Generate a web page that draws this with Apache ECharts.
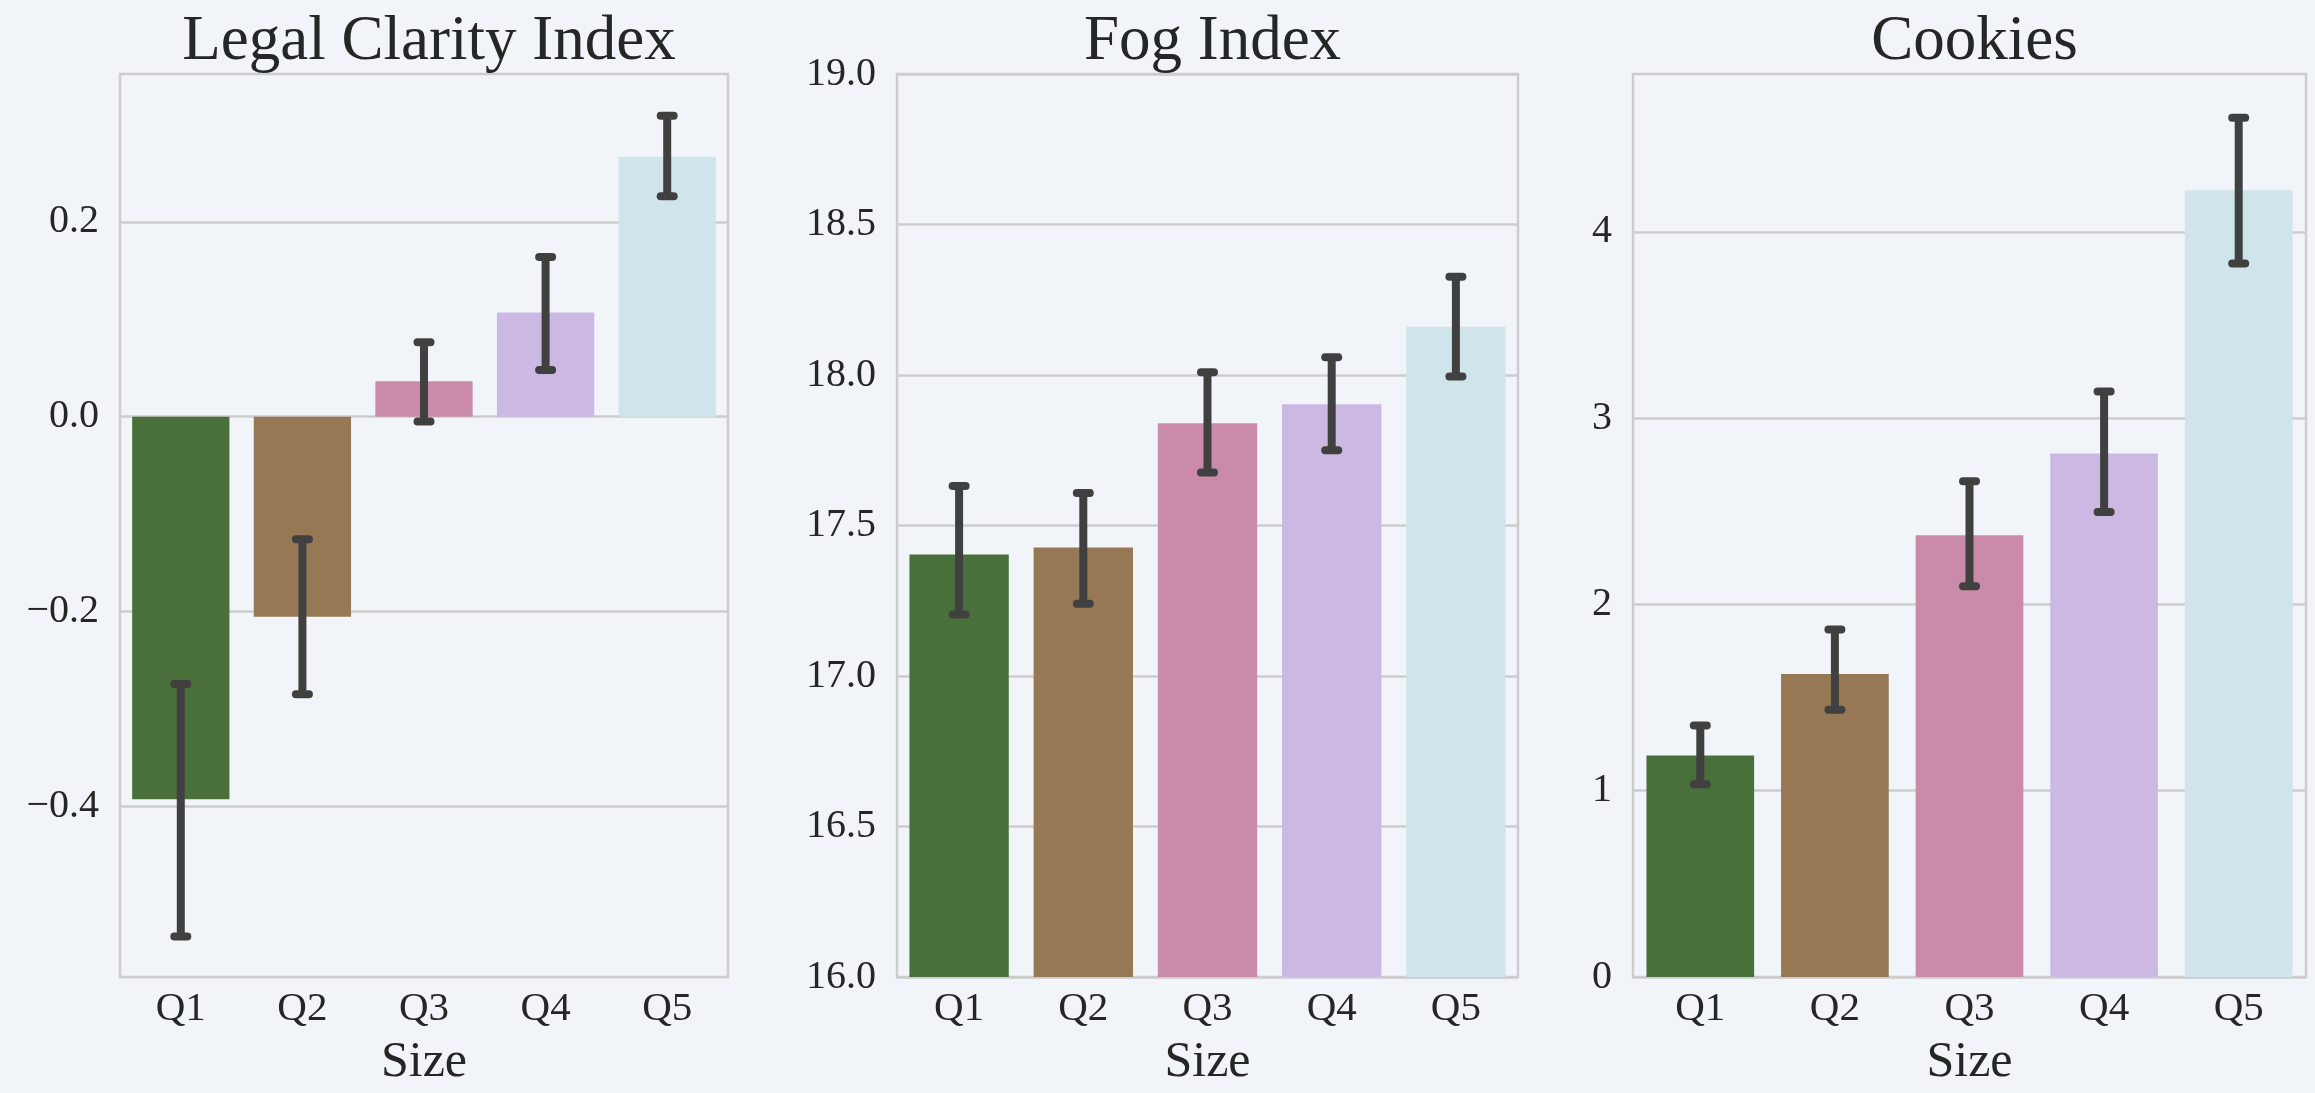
<!DOCTYPE html>
<html>
<head>
<meta charset="utf-8">
<script src="https://cdn.jsdelivr.net/npm/echarts@6/dist/echarts.min.js"></script>
<style>
html,body{margin:0;padding:0;background:#f1f5f9;overflow:hidden;}
#chart{width:2315px;height:1093px;}
</style>
</head>
<body>
<div id="chart"></div>
<script>
// ---- data ----
const categories = ['Q1', 'Q2', 'Q3', 'Q4', 'Q5'];
const panelTitles = ['Legal Clarity Index', 'Fog Index', 'Cookies'];
const xAxisName = 'Size';

const legalMean = [-0.393, -0.2055, 0.0365, 0.107, 0.267];
const legalLow  = [-0.534, -0.285, -0.005, 0.048, 0.2265];
const legalHigh = [-0.2745, -0.126, 0.0765, 0.164, 0.309];

const fogMean = [17.404, 17.427, 17.84, 17.903, 18.16];
const fogLow  = [17.204, 17.24, 17.676, 17.75, 17.995];
const fogHigh = [17.631, 17.608, 18.009, 18.059, 18.326];

const cookiesMean = [1.189, 1.627, 2.372, 2.81, 4.224];
const cookiesLow  = [1.035, 1.435, 2.098, 2.496, 3.83];
const cookiesHigh = [1.35, 1.866, 2.662, 3.143, 4.613];

const legalTicks = [-0.4, -0.2, 0, 0.2];
const fogTicks = [16, 16.5, 17, 17.5, 18, 18.5, 19];
const cookiesTicks = [0, 1, 2, 3, 4];

const legalRange = [-0.5755, 0.352];
const fogRange = [16, 19];
const cookiesRange = [0, 4.848];

// ---- styles ----
const barColors = ['#49703a', '#967855', '#c98ba9', '#cbb9e4', '#d0e4eb'];
const FONT = 'Liberation Serif';
const TEXT = '#262626';
const GRID = '#cdcdcd';
const ERR = '#404040';

const grids = [
  {left: 120, width: 608, top: 74, height: 908},
  {left: 897, width: 621, top: 74, height: 908},
  {left: 1633, width: 673, top: 74, height: 908}
];

const panels = [
  {mean: legalMean, low: legalLow, high: legalHigh, ticks: legalTicks, range: legalRange,
   fmt: v => (v < 0 ? '\u2212' : '') + Math.abs(v).toFixed(1)},
  {mean: fogMean, low: fogLow, high: fogHigh, ticks: fogTicks, range: fogRange,
   fmt: v => v.toFixed(1)},
  {mean: cookiesMean, low: cookiesLow, high: cookiesHigh, ticks: cookiesTicks, range: cookiesRange,
   fmt: v => String(Math.round(v))}
];

function renderErr(params, api) {
  const x = api.value(0);
  const lo = api.coord([x, api.value(1)]);
  const hi = api.coord([x, api.value(2)]);
  const cx = hi[0];
  const hw = 6.5;
  return {
    type: 'group',
    children: [
      {type: 'line', shape: {x1: cx, y1: hi[1], x2: cx, y2: lo[1]},
       style: {stroke: ERR, lineWidth: 8}},
      {type: 'line', shape: {x1: cx - hw, y1: hi[1], x2: cx + hw, y2: hi[1]},
       style: {stroke: ERR, lineWidth: 8, lineCap: 'round'}},
      {type: 'line', shape: {x1: cx - hw, y1: lo[1], x2: cx + hw, y2: lo[1]},
       style: {stroke: ERR, lineWidth: 8, lineCap: 'round'}}
    ]
  };
}

const option = {
  backgroundColor: '#f1f5f9',
  animation: false,
  title: panelTitles.map((t, i) => ({
    text: t,
    left: grids[i].left + grids[i].width / 2,
    top: 6,
    textAlign: 'center',
    textStyle: {fontFamily: FONT, fontSize: 63, fontWeight: 'normal', color: TEXT}
  })),
  grid: grids.map(g => Object.assign({show: true, borderColor: GRID, borderWidth: 2.5,
                                      backgroundColor: 'transparent', containLabel: false}, g)),
  xAxis: grids.map((g, i) => ({
    type: 'category',
    gridIndex: i,
    data: categories,
    axisLine: {show: false},
    axisTick: {show: false},
    axisLabel: {fontFamily: FONT, fontSize: 41, color: TEXT, margin: 12},
    name: xAxisName,
    nameLocation: 'middle',
    nameGap: 61,
    nameTextStyle: {fontFamily: FONT, fontSize: 50, color: TEXT}
  })),
  yAxis: panels.map((p, i) => ({
    type: 'value',
    gridIndex: i,
    min: p.range[0],
    max: p.range[1],
    axisLine: {show: false},
    axisTick: {show: false, customValues: p.ticks},
    axisLabel: {fontFamily: FONT, fontSize: 40, color: TEXT, margin: 21,
                customValues: p.ticks, formatter: p.fmt},
    splitLine: {show: true, lineStyle: {color: GRID, width: 2.5}}
  })),
  series: []
};

panels.forEach((p, i) => {
  option.series.push({
    type: 'bar',
    xAxisIndex: i, yAxisIndex: i,
    barWidth: '80%',
    data: p.mean.map((v, k) => ({value: v, itemStyle: {color: barColors[k]}})),
    z: 2
  });
  option.series.push({
    type: 'custom',
    xAxisIndex: i, yAxisIndex: i,
    renderItem: renderErr,
    clip: false,
    encode: {x: 0, y: [1, 2]},
    data: p.mean.map((v, k) => [k, p.low[k], p.high[k]]),
    z: 5
  });
});

const chart = echarts.init(document.getElementById('chart'));
chart.setOption(option);
</script>
</body>
</html>
